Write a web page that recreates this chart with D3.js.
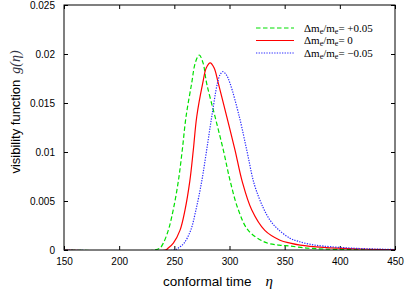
<!DOCTYPE html>
<html>
<head>
<meta charset="utf-8">
<script src="https://cdn.jsdelivr.net/npm/d3@7"></script>
<style>
  body { margin: 0; background: #fff; }
  svg { display: block; }
  .tick text { font-family: "Liberation Sans", Arial, sans-serif; font-size: 10px; fill: #000; }
</style>
</head>
<body>
<div id="chart"></div>
<script>
'use strict'

// conformal time eta vs visibility function g(eta)
const etaPlus = [150, 232, 237, 240, 244.5, 249, 253.6, 257.2, 260.6, 265.7, 269, 272.6, 276, 279.3, 286.9, 294.4, 300.7, 308, 317, 332, 345, 354.8, 370, 385, 410, 450]
const gPlus   = [0, 0, 0.0002, 0.0007, 0.002, 0.0041, 0.007, 0.0102, 0.0136, 0.017, 0.0191, 0.0199, 0.0191, 0.017, 0.0136, 0.0102, 0.007, 0.0041, 0.002, 0.0008, 0.0005, 0.0004, 0.0002, 0.0001, 0.00004, 0.00001]

const etaZero = [150, 242, 244.5, 249.1, 255.1, 259.7, 264, 267.2, 270.3, 275.7, 279, 282.5, 286, 289.9, 297.5, 305, 311.5, 320.1, 332, 345.8, 355, 364, 385, 420, 450]
const gZero   = [0, 0, 0.0002, 0.0007, 0.002, 0.0041, 0.007, 0.0102, 0.0136, 0.017, 0.0186, 0.0191, 0.0186, 0.017, 0.0136, 0.0102, 0.007, 0.0041, 0.002, 0.001, 0.0007, 0.0005, 0.00027, 0.0001, 0.00003]

const etaMinus = [150, 250, 253.6, 258.8, 264.8, 269.6, 274.8, 279.3, 283.9, 289, 291.5, 294, 297, 300.5, 308.9, 316, 322.5, 330.6, 337, 344.2, 354.8, 362, 372, 385, 415, 450]
const gMinus   = [0, 0, 0.0002, 0.0007, 0.002, 0.0041, 0.007, 0.0102, 0.0136, 0.017, 0.0179, 0.0182, 0.0179, 0.017, 0.0136, 0.01, 0.0067, 0.0043, 0.003, 0.0021, 0.0012, 0.0009, 0.0006, 0.0004, 0.00017, 0.00005]

const xTicks = [150, 200, 250, 300, 350, 400, 450]
const yTicks = [0, 0.005, 0.01, 0.015, 0.02, 0.025]
const legendLabels = ['+0.05', '0', '\u22120.05']

const series = [
    { eta: etaPlus,  g: gPlus,  color: '#00e000', dash: '4.5,2.5' },
    { eta: etaZero,  g: gZero,  color: '#ff0000', dash: null },
    { eta: etaMinus, g: gMinus, color: '#2a2aff', dash: '1.3,1.3' }
]

const svgWidth = 409
const svgHeight = 296
const margin = { left: 64, right: 14, top: 5, bottom: 46 }
const width = svgWidth - margin.left - margin.right
const height = svgHeight - margin.top - margin.bottom

const svg = d3.select('#chart')
    .append('svg')
    .attr('width', svgWidth)
    .attr('height', svgHeight)

const g = svg.append('g')
    .attr('transform', `translate(${margin.left},${margin.top})`)

////////////// scales //////////////
const xScale = d3.scaleLinear().domain([150, 450]).range([0, width])
const yScale = d3.scaleLinear().domain([0, 0.025]).range([height, 0])

////////////// axes //////////////
const fmtY = d => d === 0 ? '0' : String(+d.toFixed(3))

g.append('g')
    .attr('transform', `translate(0,${height})`)
    .call(d3.axisBottom(xScale).tickValues(xTicks).tickSizeInner(-4).tickSizeOuter(0).tickPadding(8))
    .call(a => a.select('.domain').remove())

g.append('g')
    .call(d3.axisTop(xScale).tickValues(xTicks).tickSizeInner(-4).tickSizeOuter(0).tickFormat(''))
    .call(a => a.select('.domain').remove())

g.append('g')
    .call(d3.axisLeft(yScale).tickValues(yTicks).tickSizeInner(-4).tickSizeOuter(0).tickPadding(9).tickFormat(fmtY))
    .call(a => a.select('.domain').remove())

g.append('g')
    .attr('transform', `translate(${width},0)`)
    .call(d3.axisRight(yScale).tickValues(yTicks).tickSizeInner(-4).tickSizeOuter(0).tickFormat(''))
    .call(a => a.select('.domain').remove())

g.selectAll('.tick line').attr('stroke', '#000')

////////////// curves //////////////
const line = d3.line()
    .x(d => xScale(d[0]))
    .y(d => yScale(d[1]))
    .curve(d3.curveCatmullRom.alpha(0.5))

g.append('defs').append('clipPath').attr('id', 'clip')
    .append('rect').attr('width', width).attr('height', height)

series.forEach(s => {
    g.append('path')
        .datum(d3.zip(s.eta, s.g))
        .attr('clip-path', 'url(#clip)')
        .attr('fill', 'none')
        .attr('stroke', s.color)
        .attr('stroke-width', 1.2)
        .attr('stroke-dasharray', s.dash)
        .attr('d', line)
})

// frame
g.append('rect')
    .attr('width', width)
    .attr('height', height)
    .attr('fill', 'none')
    .attr('stroke', '#000')
    .attr('stroke-width', 1)

////////////// legend //////////////
const legend = g.append('g').attr('transform', `translate(${256 - margin.left},${28 - margin.top})`)
series.forEach((s, i) => {
    const row = legend.append('g').attr('transform', `translate(0,${i * 12.5})`)
    row.append('line')
        .attr('x1', 0).attr('x2', 38)
        .attr('stroke', s.color)
        .attr('stroke-width', 1.2)
        .attr('stroke-dasharray', s.dash)
    const t = row.append('text')
        .attr('x', 48).attr('y', 3.5)
        .attr('font-family', '"Liberation Serif", "Times New Roman", serif')
        .attr('font-size', 11)
    t.append('tspan').text('\u0394m')
    t.append('tspan').attr('font-size', 8).attr('dy', 2).text('e')
    t.append('tspan').attr('dy', -2).text('/m')
    t.append('tspan').attr('font-size', 8).attr('dy', 2).text('e')
    t.append('tspan').attr('dy', -2).text('= ' + legendLabels[i])
})

////////////// axis labels //////////////
const xl = svg.append('text')
    .attr('x', 163).attr('y', 286)
    .attr('font-family', '"Liberation Sans", Arial, sans-serif')
    .attr('font-size', 13.5)
xl.append('tspan').text('conformal time')
xl.append('tspan').attr('dx', 14)
    .attr('font-family', '"Liberation Serif", serif').attr('font-style', 'italic').attr('font-size', 15)
    .text('\u03b7')

const yl = svg.append('text')
    .attr('transform', 'translate(20,112) rotate(-90)')
    .attr('text-anchor', 'middle')
    .attr('font-family', '"Liberation Sans", Arial, sans-serif')
    .attr('font-size', 13)
yl.append('tspan').text('visibility function')
yl.append('tspan').attr('dx', 6)
    .attr('font-family', '"Liberation Serif", serif').attr('font-style', 'italic').attr('font-size', 14)
    .attr('fill', '#334')
    .text('g(\u03b7)')
</script>
</body>
</html>
